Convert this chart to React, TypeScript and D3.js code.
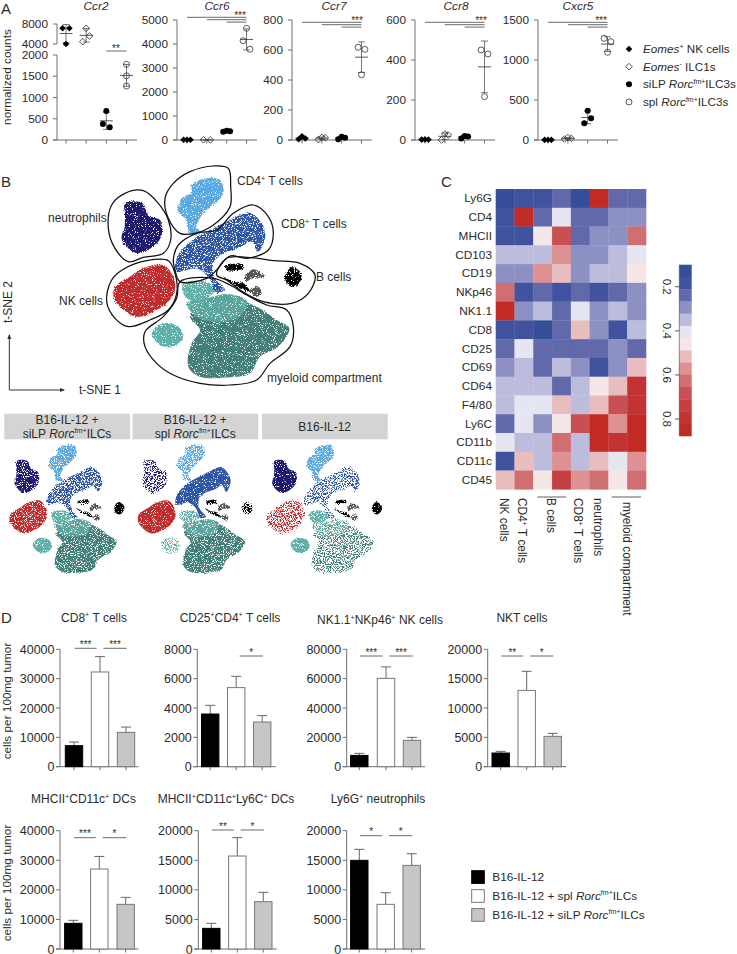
import React from "react";
import * as d3 from "d3";

const FONT = "'Liberation Sans', Arial, sans-serif";
const AXIS = "#6f6f6f";
const INK = "#2b2b2b";

// ---------- Panel A data ----------
const geneNames = ["Ccr2", "Ccr6", "Ccr7", "Ccr8", "Cxcr5"];
const ccr2Counts = [[7140, 7140, 4000], [7140, 5600, 4460], [682, 376, 299], [1780, 1510, 1270]];
const ccr6Counts = [[12, 10, 8], [10, 6], [385, 360, 345], [4654, 4138, 3780]];
const ccr7Counts = [[25, 10, 5], [18, 15, 3], [22, 15, 5], [618, 604, 435]];
const ccr8Counts = [[3, 2, 2], [30, 25, 0], [20, 18, 8], [450, 430, 217]];
const cxcr5Counts = [[3, 2, 2], [30, 20, 12], [366, 271, 209], [1271, 1229, 1096]];
const ccr6Ticks = [0, 1000, 2000, 3000, 4000, 5000];
const ccr7Ticks = [0, 200, 400, 600, 800];
const ccr8Ticks = [0, 200, 400, 600];
const cxcr5Ticks = [0, 500, 1000, 1500];
const ccr2LowTicks = [0, 500, 1000, 1500, 2000];
const ccr2HighTicks = [4000, 8000];
const ilcLegend = ["_Eomes_^+^ NK cells", "_Eomes_^-^ ILC1s", "siLP _Rorc_^fm+^ILC3s", "spl _Rorc_^fm+^ILC3s"];

// ---------- Panel B data: hand-traced regions in t-SNE plot units ----------
const outlineCD4 = [[495, 85], [520, 40], [570, 5], [640, -12], [685, -5], [692, 50], [690, 110], [640, 165], [585, 190], [540, 190], [505, 145]];
const outlineNeut = [[325, 175], [335, 105], [375, 70], [430, 62], [475, 100], [505, 150], [512, 210], [490, 250], [430, 262], [385, 275], [345, 235]];
const outlineCD8 = [[520, 270], [535, 225], [590, 190], [650, 180], [700, 130], [760, 105], [805, 140], [820, 190], [805, 240], [740, 265], [690, 258], [650, 300], [620, 325], [540, 335], [525, 300]];
const outlineB = [[650, 315], [680, 265], [740, 262], [820, 272], [900, 280], [945, 315], [925, 370], [875, 400], [790, 395], [720, 360], [680, 330]];
const outlineNK = [[320, 395], [335, 330], [375, 295], [440, 272], [505, 272], [525, 310], [530, 370], [505, 420], [450, 450], [385, 470], [345, 445]];
const outlineMyeloid = [[540, 335], [640, 325], [690, 345], [740, 375], [800, 405], [860, 420], [880, 470], [870, 530], [810, 580], [770, 630], [690, 645], [600, 640], [520, 615], [470, 580], [435, 530], [435, 485], [490, 440], [530, 385]];

const regionCD4 = [[575, 45], [620, 25], [660, 30], [670, 70], [640, 105], [610, 130], [590, 170], [605, 190], [570, 190], [560, 150], [535, 125], [545, 85], [575, 68]];
const regionNeut = [[375, 100], [425, 98], [448, 138], [480, 150], [485, 195], [465, 225], [415, 250], [385, 235], [365, 205], [374, 168], [375, 135]];
const regionCD8 = [[525, 290], [535, 255], [565, 220], [600, 195], [650, 170], [700, 145], [750, 128], [785, 160], [797, 195], [775, 245], [755, 215], [715, 235], [670, 250], [640, 280], [645, 325], [675, 360], [650, 368], [625, 320], [590, 295], [530, 305]];
const regionNK = [[345, 350], [390, 320], [430, 295], [490, 285], [520, 320], [525, 360], [500, 400], [460, 425], [410, 440], [360, 410], [342, 385]];
const regionB1 = [[855, 320], [875, 292], [900, 305], [905, 325], [885, 350], [865, 345]];
const regionB2 = [[675, 290], [725, 282], [730, 295], [680, 300]];
const regionB3 = [[670, 320], [700, 335], [730, 340], [750, 365], [700, 345]];
const regionGrey1 = [[735, 320], [760, 298], [795, 320], [755, 325], [740, 335]];
const regionGrey2 = [[750, 360], [775, 350], [785, 370], [770, 380]];
const regionTealTop = [[550, 340], [620, 335], [645, 360], [610, 390], [570, 390], [550, 370]];
const regionTealIsland = [[455, 490], [490, 460], [535, 470], [550, 500], [520, 530], [480, 525]];
const regionTealDark = [[610, 400], [680, 380], [770, 410], [830, 450], [868, 475], [835, 530], [780, 560], [750, 610], [690, 622], [600, 620], [565, 590], [575, 520], [600, 480], [570, 440]];
const regionTealMid = [[560, 400], [620, 385], [680, 372], [740, 392], [720, 440], [640, 455], [590, 440]];

const clusterLayers = [
  { region: regionTealDark, color: "#437f79", key: "mye" },
  { region: regionTealMid, color: "#5aa59d", key: "mye" },
  { region: regionTealTop, color: "#5fb0a8", key: "top" },
  { region: regionTealIsland, color: "#5fb0a8", key: "isl" },
  { region: regionCD4, color: "#5aa9e0", key: "cd4" },
  { region: regionNeut, color: "#1d1a70", key: "neu" },
  { region: regionCD8, color: "#2f55a6", key: "cd8" },
  { region: regionNK, color: "#c22b2b", key: "nk" },
  { region: regionGrey1, color: "#555555", key: "b" },
  { region: regionGrey2, color: "#555555", key: "b" },
  { region: regionB1, color: "#000000", key: "bb" },
  { region: regionB2, color: "#000000", key: "b" },
  { region: regionB3, color: "#000000", key: "b" },
];
const outlines = [outlineCD4, outlineNeut, outlineCD8, outlineB, outlineNK, outlineMyeloid];
const tsneLabels = ["CD4^+^ T cells", "CD8^+^ T cells", "neutrophils", "B cells", "NK cells", "myeloid compartment"];

// share of a region left empty, per condition panel
const sparsityLevels: Record<string, number[]> = {
  mye: [1, 1, 3],
  top: [1, 2, 1],
  isl: [0, 3, 0],
  cd4: [1, 2, 1],
  neu: [1, 3, 0],
  cd8: [2, 0, 3],
  nk: [1, 0, 3],
  b: [1, 1, 1],
  bb: [0, 2, 0],
};
const mainSparsity: Record<string, string> = { mye: "0", cd8: "1", top: "0" };
const conditionHeaders = [["B16-IL-12 +", "siLP _Rorc_^fm+^ILCs"], ["B16-IL-12 +", "spl _Rorc_^fm+^ILCs"], ["B16-IL-12"]];

// ---------- Panel C data ----------
const heatRows = ["Ly6G", "CD4", "MHCII", "CD103", "CD19", "NKp46", "NK1.1", "CD8", "CD25", "CD69", "CD64", "F4/80", "Ly6C", "CD11b", "CD11c", "CD45"];
const heatValues = [
  [0.13, 0.18, 0.16, 0.24, 0.13, 0.85, 0.24, 0.24],
  [0.18, 0.85, 0.24, 0.41, 0.24, 0.24, 0.29, 0.29],
  [0.18, 0.18, 0.46, 0.68, 0.24, 0.29, 0.29, 0.63],
  [0.35, 0.35, 0.35, 0.57, 0.29, 0.29, 0.35, 0.41],
  [0.29, 0.29, 0.57, 0.52, 0.29, 0.35, 0.35, 0.46],
  [0.63, 0.18, 0.24, 0.18, 0.24, 0.18, 0.24, 0.29],
  [0.85, 0.29, 0.35, 0.24, 0.41, 0.29, 0.35, 0.29],
  [0.18, 0.18, 0.13, 0.24, 0.52, 0.29, 0.18, 0.35],
  [0.24, 0.41, 0.24, 0.24, 0.24, 0.24, 0.29, 0.24],
  [0.29, 0.35, 0.24, 0.35, 0.29, 0.18, 0.29, 0.52],
  [0.35, 0.35, 0.35, 0.24, 0.35, 0.46, 0.52, 0.79],
  [0.35, 0.41, 0.41, 0.52, 0.35, 0.52, 0.68, 0.79],
  [0.24, 0.41, 0.29, 0.46, 0.68, 0.85, 0.57, 0.85],
  [0.41, 0.35, 0.35, 0.63, 0.35, 0.85, 0.79, 0.85],
  [0.18, 0.52, 0.35, 0.57, 0.35, 0.52, 0.41, 0.57],
  [0.52, 0.63, 0.46, 0.74, 0.57, 0.63, 0.46, 0.63],
];
const heatPalette = ["#344e9a", "#41539f", "#6169ab", "#8c90c3", "#bcbcdc", "#e6e6f3", "#f5e6e8", "#e8bdbf", "#dd9192", "#d06f71", "#c85053", "#c53f40", "#c43334", "#c22a24"];
const heatTicks = [0.2, 0.4, 0.6, 0.8];
const heatColumns = ["NK cells", "CD4^+^ T cells", "B cells", "CD8^+^ T cells", "neutrophils", "myeloid compartment"];

// ---------- Panel D data ----------
const barTitles = ["CD8^+^ T cells", "CD25^+^CD4^+^ T cells", "NK1.1^+^NKp46^+^ NK cells", "NKT cells", "MHCII^+^CD11c^+^ DCs", "MHCII^+^CD11c^+^Ly6C^+^ DCs", "Ly6G^+^ neutrophils"];
const barMeans = [
  [7160, 32270, 11700], [3590, 5390, 3045], [7700, 60200, 17950], [2330, 13000, 5170],
  [8680, 27040, 15100], [3490, 15720, 8000], [14990, 7550, 14140],
];
const barUpper = [
  [8400, 37500, 13500], [4180, 6160, 3480], [9100, 68000, 20000], [2610, 16250, 5680],
  [9690, 31300, 17460], [4340, 18820, 9580], [16850, 9520, 16110],
];
const barMax = [40000, 8000, 80000, 20000, 40000, 20000, 20000];
const barStars = [["***", "***"], ["", "*"], ["***", "***"], ["**", "*"], ["***", "*"], ["**", "*"], ["*", "*"]];
const barFills = ["#000000", "#ffffff", "#c6c6c6"];
const treatmentLegend = ["B16-IL-12", "B16-IL-12 + spl _Rorc_^fm+^ILCs", "B16-IL-12 + siLP _Rorc_^fm+^ILCs"];

// ---------- helpers ----------
function Rich({ s, size, x, y, anchor = "start", transform, fill = INK }: any) {
  const parts = s.split(/(\^[^^]*\^|_[^_]*_)/).filter((p: string) => p !== "");
  let pendingDy = 0;
  const spans = parts.map((p: string, i: number) => {
    const isSup = p[0] === "^";
    const isIt = p[0] === "_";
    const txt = isSup || isIt ? p.slice(1, -1) : p;
    const lift = size * 0.36;
    const dy = isSup ? pendingDy - lift : pendingDy;
    pendingDy = isSup ? lift : 0;
    return (
      <tspan key={i} dy={dy} fontStyle={isIt ? "italic" : undefined} fontSize={isSup ? size * 0.6 : size} xmlSpace="preserve">
        {txt}
      </tspan>
    );
  });
  return (
    <text x={x} y={y} textAnchor={anchor} transform={transform} fontSize={size} fontFamily={FONT} fill={fill} style={{ whiteSpace: "pre" }}>
      {spans}
    </text>
  );
}

function dodge(values: number[], y: (v: number) => number, gap = 3.4, near = 9) {
  const idx = values.map((_, i) => i).sort((a, b) => y(values[a]) - y(values[b]));
  const out = values.map(() => 0);
  let start = 0;
  for (let i = 1; i <= idx.length; i++) {
    if (i === idx.length || y(values[idx[i]]) - y(values[idx[i - 1]]) > near) {
      const c = idx.slice(start, i);
      if (c.length === 2) {
        out[c[0]] = -gap;
        out[c[1]] = gap;
      } else if (c.length >= 3) {
        out[c[0]] = 0;
        out[c[1]] = gap;
        out[c[2]] = -gap;
      }
      start = i;
    }
  }
  return out;
}

const diamond = d3.symbol().type(d3.symbolSquare).size(22)() as string;

function Marker({ kind, x, y }: any) {
  if (kind === 0) return <path d={diamond} transform={`translate(${x},${y}) rotate(45)`} fill="#000" />;
  if (kind === 1) return <path d={diamond} transform={`translate(${x},${y}) rotate(45)`} fill="none" stroke="#333" strokeWidth={0.8} />;
  if (kind === 2) return <circle cx={x} cy={y} r={3} fill="#000" />;
  return <circle cx={x} cy={y} r={3} fill="none" stroke="#333" strokeWidth={0.8} />;
}

function DotPanel({ title, counts, left, ticks, sig, sigTop, starY, starX, titleX, top = 20 }: any) {
  const bottom = 140;
  const y = d3.scaleLinear().domain([0, d3.max(ticks) as number]).range([bottom, top]);
  const x = d3.scalePoint<number>().domain([0, 1, 2, 3]).range([left + 10, left + 69.5]);
  return (
    <g>
      <Rich s={`_${title}_`} size={11.8} x={titleX} y={10} anchor="middle" />
      <line x1={left} x2={left} y1={top} y2={bottom} stroke={AXIS} />
      <line x1={left - 4} x2={left + 80} y1={bottom} y2={bottom} stroke={AXIS} />
      {ticks.map((t: number) => (
        <g key={t}>
          <line x1={left - 4} x2={left} y1={y(t)} y2={y(t)} stroke={AXIS} />
          <text x={left - 9} y={y(t) + 4.2} textAnchor="end" fontSize={11.8} fontFamily={FONT} fill={INK}>{t}</text>
        </g>
      ))}
      {[0, 1, 2, 3].map((i) => <line key={i} x1={x(i)} x2={x(i)} y1={bottom} y2={bottom + 3.5} stroke={AXIS} />)}
      {counts.map((vals: number[], g: number) => <Group key={g} vals={vals} g={g} cx={x(g) as number} y={y} />)}
      {sig.map((from: number, i: number) => (
        <line key={i} x1={x(from) as number} x2={x(3) as number} y1={sigTop + i * 2.4} y2={sigTop + i * 2.4} stroke="#444" strokeWidth={0.8} />
      ))}
      <text x={starX} y={starY} textAnchor="middle" fontSize={10} fontFamily={FONT} fill={INK}>***</text>
    </g>
  );
}

function Group({ vals, g, cx, y }: any) {
  const mean = d3.mean(vals) as number;
  const sd = d3.deviation(vals) as number;
  const off = dodge(vals, y);
  return (
    <g>
      <line x1={cx} x2={cx} y1={y(mean + sd)} y2={y(Math.max(mean - sd, 0))} stroke="#555" strokeWidth={0.8} />
      <line x1={cx - 6.5} x2={cx + 6.5} y1={y(mean)} y2={y(mean)} stroke="#444" strokeWidth={0.9} />
      {[mean + sd, Math.max(mean - sd, 0)].map((v, i) => <line key={i} x1={cx - 3.5} x2={cx + 3.5} y1={y(v)} y2={y(v)} stroke="#555" strokeWidth={0.8} />)}
      {vals.map((v: number, i: number) => <Marker key={i} kind={g} x={cx + off[i]} y={y(v)} />)}
    </g>
  );
}

function Ccr2Panel() {
  const left = 57;
  const yLow = d3.scaleLinear().domain([0, 2000]).range([140, 55]);
  const yHigh = d3.scaleLinear().domain([4000, 8000]).range([44, 24]);
  const y = (v: number) => (v >= 3000 ? yHigh(Math.max(v, 4000)) : yLow(Math.max(v, 0)));
  const x = d3.scalePoint<number>().domain([0, 1, 2, 3]).range([left + 9, left + 69.5]);
  return (
    <g>
      <Rich s="_Ccr2_" size={11.8} x={96} y={10} anchor="middle" />
      <line x1={left} x2={left} y1={24} y2={44} stroke={AXIS} />
      <line x1={left} x2={left} y1={55} y2={140} stroke={AXIS} />
      <line x1={left - 4} x2={left + 80} y1={140} y2={140} stroke={AXIS} />
      {[...ccr2LowTicks, ...ccr2HighTicks].map((t) => (
        <g key={t}>
          <line x1={left - 4} x2={left} y1={y(t)} y2={y(t)} stroke={AXIS} />
          <text x={left - 9} y={y(t) + 4.2} textAnchor="end" fontSize={11.8} fontFamily={FONT} fill={INK}>{t}</text>
        </g>
      ))}
      {[0, 1, 2, 3].map((i) => <line key={i} x1={x(i)} x2={x(i)} y1={140} y2={143.5} stroke={AXIS} />)}
      {ccr2Counts.map((vals, g) => <Group key={g} vals={vals} g={g} cx={x(g) as number} y={y} />)}
      <line x1={x(2) as number} x2={x(3) as number} y1={51} y2={51} stroke="#444" strokeWidth={0.8} />
      <text x={116} y={52} textAnchor="middle" fontSize={10} fontFamily={FONT} fill={INK}>**</text>
    </g>
  );
}

function Tsne({ sx, sy, panel, showOutlines }: any) {
  const line = d3.line<number[]>().x((d) => sx(d[0])).y((d) => sy(d[1])).curve(d3.curveCatmullRomClosed.alpha(0.5));
  return (
    <g>
      {clusterLayers.map((c, i) => (
        <path key={i} d={line(c.region as any) as string} fill={c.color} filter={`url(#speck${panel < 0 ? mainSparsity[c.key] ?? "M" : sparsityLevels[c.key][panel]})`} />
      ))}
      {showOutlines && outlines.map((o, i) => <path key={i} d={line(o as any) as string} fill="none" stroke="#111" strokeWidth={1.25} />)}
    </g>
  );
}

function SpeckFilter({ id, freq, hole, disp }: any) {
  const k = 12;
  const c = 0.5 - k * hole;
  return (
    <filter id={id} filterUnits="userSpaceOnUse" x={-20} y={150} width={440} height={430} colorInterpolationFilters="sRGB">
      <feTurbulence type="fractalNoise" baseFrequency={freq} numOctaves={2} seed={7} result="n" />
      <feDisplacementMap in="SourceGraphic" in2="n" scale={disp} xChannelSelector="R" yChannelSelector="G" result="d" />
      <feColorMatrix in="n" type="matrix" values={`0 0 0 0 0  0 0 0 0 0  0 0 0 0 0  ${k} 0 0 0 ${c}`} result="m" />
      <feComposite in="d" in2="m" operator="in" result="s" />
      <feGaussianBlur in="s" stdDeviation={0.3} />
    </filter>
  );
}

function BarPanel({ index, axisX, centers, top, zero, sigY }: any) {
  const maxV = barMax[index];
  const y = d3.scaleLinear().domain([0, maxV]).range([zero, top]);
  const ticks = d3.range(0, maxV + 1, maxV / 4);
  const w = 17.4;
  return (
    <g>
      <line x1={axisX} x2={axisX} y1={top} y2={zero} stroke={AXIS} />
      <line x1={axisX - 4} x2={axisX + 78.5} y1={zero} y2={zero} stroke={AXIS} />
      {ticks.map((t) => (
        <g key={t}>
          <line x1={axisX - 4} x2={axisX} y1={y(t)} y2={y(t)} stroke={AXIS} />
          <text x={axisX - 5.5} y={y(t) + 4.5} textAnchor="end" fontSize={12.5} fontFamily={FONT} fill={INK}>{t}</text>
        </g>
      ))}
      {centers.map((c: number, i: number) => (
        <g key={i}>
          <line x1={c} x2={c} y1={zero} y2={zero + 3.5} stroke={AXIS} />
          <line x1={c} x2={c} y1={y(barUpper[index][i])} y2={y(barMeans[index][i])} stroke="#666" />
          <line x1={c - 5} x2={c + 5} y1={y(barUpper[index][i])} y2={y(barUpper[index][i])} stroke="#666" />
          <rect x={c - w / 2} y={y(barMeans[index][i])} width={w} height={zero - y(barMeans[index][i])} fill={barFills[i]} stroke={i === 0 ? "#000" : "#777"} strokeWidth={1} />
        </g>
      ))}
      {barStars[index].map((st: string, i: number) => {
        if (!st) return null;
        const a = i === 0 ? centers[0] + 0.7 : centers[1] + 3.4;
        const b = i === 0 ? centers[1] - 3.4 : centers[2] + 0.7;
        return (
          <g key={i}>
            <line x1={a} x2={b} y1={sigY} y2={sigY} stroke="#444" strokeWidth={0.8} />
            <text x={(a + b) / 2} y={sigY - 0.3} textAnchor="middle" fontSize={10} fontFamily={FONT} fill={INK}>{st}</text>
          </g>
        );
      })}
    </g>
  );
}

export default function App() {
  const fs = 11.8;
  // t-SNE scales
  const mainX = d3.scaleLinear().domain([0, 1200]).range([0, 400]);
  const mainY = d3.scaleLinear().domain([0, 720]).range([170, 410]);
  const miniOffsets = [0, 128.3, 257.7];
  const miniY = d3.scaleLinear().domain([0, 720]).range([439.7, 593.3]);

  // heatmap scales
  const hx = d3.scaleBand<number>().domain(d3.range(8)).range([495.7, 646]);
  const hy = d3.scaleBand<number>().domain(d3.range(16)).range([189, 489.3]);
  const heatColor = d3.scaleQuantize<string>().domain([0.1, 0.877]).range(heatPalette);
  const cby = d3.scaleLinear().domain([0.1, 0.877]).range([264.7, 436]);
  const barStep = 0.777 / heatPalette.length;

  const columnX = [504, 521.7, 551, 578, 598, 627];
  const columnTop = [498, 498, 498, 498, 498, 502];
  const tsnePos: [number, number][] = [[237, 185], [281, 228], [48, 222], [316, 281], [59, 305], [267, 382]];

  return (
    <svg width={737} height={954} style={{ position: "absolute", left: 0, top: 0, background: "#fff" }}>
      <defs>
        <SpeckFilter id="speckM" freq={0.9} hole={0.33} disp={4} />
        <SpeckFilter id="speck0" freq={0.9} hole={0.35} disp={2} />
        <SpeckFilter id="speck1" freq={0.9} hole={0.4} disp={3} />
        <SpeckFilter id="speck2" freq={0.9} hole={0.46} disp={4} />
        <SpeckFilter id="speck3" freq={0.9} hole={0.52} disp={5} />
        <marker id="arr" markerWidth={6} markerHeight={6} refX={4} refY={2.5} orient="auto">
          <path d="M0,0.5 L5,2.5 L0,4.5 Z" fill="#333" />
        </marker>
      </defs>

      {/* panel letters */}
      <text x={1} y={14} fontSize={15} fontFamily={FONT} fill={INK}>A</text>
      <text x={1} y={187} fontSize={15} fontFamily={FONT} fill={INK}>B</text>
      <text x={441} y={187} fontSize={15} fontFamily={FONT} fill={INK}>C</text>
      <text x={1} y={623} fontSize={15} fontFamily={FONT} fill={INK}>D</text>

      {/* Panel A */}
      <text transform="translate(11,77) rotate(-90)" textAnchor="middle" fontSize={fs} fontFamily={FONT} fill={INK}>normalized counts</text>
      <Ccr2Panel />
      <DotPanel title={geneNames[1]} counts={ccr6Counts} left={177} ticks={ccr6Ticks} sig={[0, 1, 2]} sigTop={17.3} starY={19} starX={240} titleX={217} />
      <DotPanel title={geneNames[2]} counts={ccr7Counts} left={292} ticks={ccr7Ticks} sig={[0, 1, 2]} sigTop={22.3} starY={23.5} starX={357} titleX={334} />
      <DotPanel title={geneNames[3]} counts={ccr8Counts} left={415} ticks={ccr8Ticks} sig={[0, 1, 2]} sigTop={22.3} starY={23.5} starX={481} titleX={456} />
      <DotPanel title={geneNames[4]} counts={cxcr5Counts} left={538} ticks={cxcr5Ticks} sig={[0, 1, 2]} sigTop={22.3} starY={23.5} starX={601} titleX={578} />
      {ilcLegend.map((l, i) => {
        const ly = d3.scaleLinear().domain([0, 3]).range([49, 102])(i);
        return (
          <g key={l}>
            <Marker kind={i} x={629} y={ly} />
            <Rich s={l} size={11.7} x={643} y={ly + 4} />
          </g>
        );
      })}

      {/* Panel B */}
      <Tsne sx={mainX} sy={mainY} panel={-1} showOutlines />
      {tsneLabels.map((l, i) => <Rich key={l} s={l} size={12} x={tsnePos[i][0]} y={tsnePos[i][1]} />)}
      <line x1={9.3} y1={390} x2={9.3} y2={335} stroke="#333" markerEnd="url(#arr)" />
      <line x1={9.3} y1={390} x2={64} y2={390} stroke="#333" markerEnd="url(#arr)" />
      <text x={79} y={394} fontSize={12} fontFamily={FONT} fill={INK}>t-SNE 1</text>
      <text transform="translate(12,302) rotate(-90)" textAnchor="middle" fontSize={12} fontFamily={FONT} fill={INK}>t-SNE 2</text>

      {conditionHeaders.map((h, i) => (
        <g key={i}>
          <rect x={4.3 + miniOffsets[i]} y={413.7} width={125.7} height={25.6} fill="#d4d4d4" />
          {h.map((line, j) => (
            <Rich key={j} s={line} size={12} x={67 + miniOffsets[i]} y={h.length === 1 ? 431 : 423.5 + j * 14.2} anchor="middle" />
          ))}
          <Tsne
            sx={d3.scaleLinear().domain([0, 1200]).range([-59.7 + miniOffsets[i], 184.3 + miniOffsets[i]])}
            sy={miniY}
            panel={i}
          />
        </g>
      ))}

      {/* Panel C */}
      {heatValues.map((row, r) =>
        row.map((v, c) => (
          <rect key={`${r}-${c}`} x={hx(c)} y={hy(r)} width={hx.bandwidth() + 0.3} height={hy.bandwidth() + 0.3} fill={heatColor(v)} />
        ))
      )}
      {heatRows.map((name, r) => (
        <text key={name} x={492} y={(hy(r) as number) + hy.bandwidth() / 2 + 4} textAnchor="end" fontSize={11.8} fontFamily={FONT} fill={INK}>{name}</text>
      ))}
      {heatColumns.map((name, i) => (
        <Rich key={name} s={name} size={11.9} x={0} y={0} transform={`translate(${columnX[i] - 4},${columnTop[i]}) rotate(90)`} />
      ))}
      <line x1={537.3} x2={566} y1={497} y2={497} stroke="#333" strokeWidth={0.8} />
      <line x1={611.7} x2={641} y1={497} y2={497} stroke="#333" strokeWidth={0.8} />
      {heatPalette.map((col, i) => (
        <rect key={col} x={679.3} y={cby(0.1 + i * barStep)} width={12.4} height={cby(0.1 + (i + 1) * barStep) - cby(0.1 + i * barStep) + 0.3} fill={col} />
      ))}
      <line x1={679.3} x2={679.3} y1={264.7} y2={436} stroke="#444" strokeWidth={0.6} />
      {heatTicks.map((t) => (
        <g key={t}>
          <line x1={675} x2={679.3} y1={cby(t)} y2={cby(t)} stroke="#333" strokeWidth={0.8} />
          <text transform={`translate(663,${cby(t)}) rotate(90)`} textAnchor="middle" fontSize={11.5} fontFamily={FONT} fill={INK}>{t.toFixed(1)}</text>
        </g>
      ))}

      {/* Panel D */}
      <text transform="translate(11,701) rotate(-90)" textAnchor="middle" fontSize={11.8} fontFamily={FONT} fill={INK}>cells per 100mg tumor</text>
      <text transform="translate(11,883) rotate(-90)" textAnchor="middle" fontSize={11.8} fontFamily={FONT} fill={INK}>cells per 100mg tumor</text>
      <BarPanel index={0} axisX={60} centers={[74, 100, 126]} top={649.3} zero={766.7} sigY={648.3} />
      <BarPanel index={1} axisX={197.3} centers={[210.2, 236.2, 262.2]} top={649.3} zero={766.7} sigY={656} />
      <BarPanel index={2} axisX={346.7} centers={[359.3, 386, 412]} top={649.3} zero={766.7} sigY={656} />
      <BarPanel index={3} axisX={487.7} centers={[500.7, 526.7, 552.7]} top={649.3} zero={766.7} sigY={656} />
      <BarPanel index={4} axisX={60} centers={[73.3, 99.3, 125.7]} top={830.7} zero={949} sigY={837.7} />
      <BarPanel index={5} axisX={198.3} centers={[211.3, 237.3, 263.3]} top={830.7} zero={949} sigY={830} />
      <BarPanel index={6} axisX={346.7} centers={[359.3, 385.7, 411.7]} top={830.7} zero={949} sigY={835.7} />
      <Rich s={barTitles[0]} size={12} x={94} y={621.7} anchor="middle" />
      <Rich s={barTitles[1]} size={12} x={230} y={621.7} anchor="middle" />
      <Rich s={barTitles[2]} size={12} x={380} y={624} anchor="middle" />
      <Rich s={barTitles[3]} size={12} x={522} y={621.7} anchor="middle" />
      <Rich s={barTitles[4]} size={12} x={83.5} y={803.3} anchor="middle" />
      <Rich s={barTitles[5]} size={12} x={226} y={803.3} anchor="middle" />
      <Rich s={barTitles[6]} size={12} x={378} y={803.3} anchor="middle" />
      {treatmentLegend.map((l, i) => {
        const ly = d3.scaleLinear().domain([0, 2]).range([870.7, 908.6])(i);
        return (
          <g key={l}>
            <rect x={471.7} y={ly} width={12.6} height={12.7} fill={barFills[i]} stroke={i === 0 ? "#000" : "#777"} />
            <Rich s={l} size={11.8} x={492.3} y={ly + 10} />
          </g>
        );
      })}
    </svg>
  );
}
